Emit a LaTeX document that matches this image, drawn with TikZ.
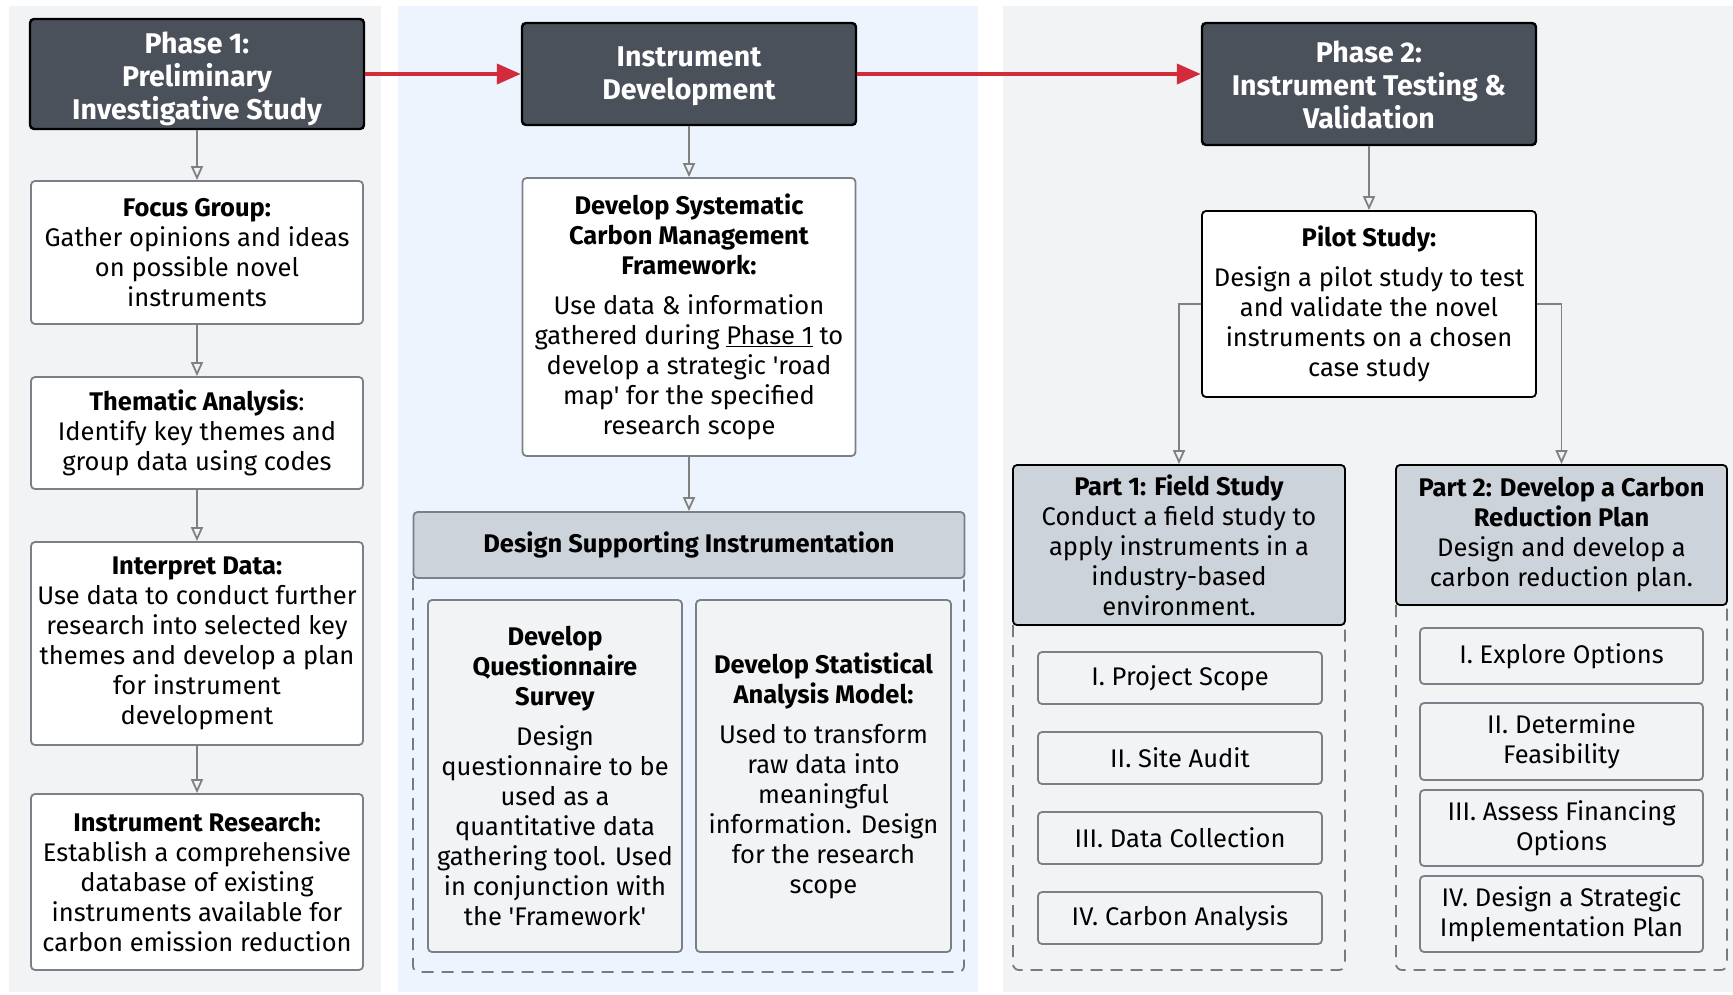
\documentclass[tikz,border=0pt]{standalone}
\usepackage{fontspec}
\setmainfont{Fira Sans}[Ligatures=TeXOff]
\usetikzlibrary{arrows.meta}

\definecolor{darkfill}{HTML}{4B515B}
\definecolor{headfill}{HTML}{CDD3DB}
\definecolor{bggrey}{HTML}{F2F3F5}
\definecolor{bgblue}{HTML}{EDF4FE}
\definecolor{innerfill}{HTML}{F2F3F5}
\definecolor{edgegrey}{HTML}{7B8088}
\definecolor{dashgrey}{HTML}{767B83}
\definecolor{flowred}{HTML}{D12B3C}
\definecolor{arrowgrey}{HTML}{808080}

\newcommand\txtsz{\fontsize{25.5}{30}\selectfont}
\newcommand\headsz{\fontsize{28.5}{33}\selectfont}
% centred block of lines with no size of its own, lowered by a given amount
\newcommand\dropby[2]{\raisebox{-#1}[0pt][0pt]{\begin{tabular}{@{}c@{}}#2\end{tabular}}}

\begin{document}
\begin{tikzpicture}[x=1pt,y=-1pt,
  phasebox/.style={draw=black, line width=2.4pt, rounded corners=4pt, fill=darkfill,
    text=white, align=center, inner sep=0pt, font=\headsz\bfseries},
  whitebox/.style={draw=edgegrey, line width=1.8pt, rounded corners=4pt, fill=white,
    align=center, inner sep=0pt, font=\txtsz},
  pilotbox/.style={whitebox, draw=black},
  headbox/.style={draw=edgegrey, line width=1.8pt, rounded corners=4pt, fill=headfill,
    align=center, inner sep=0pt, font=\txtsz},
  partbox/.style={headbox, draw=black},
  innerbox/.style={draw=edgegrey, line width=1.8pt, rounded corners=4pt, fill=innerfill,
    align=center, inner sep=0pt, font=\txtsz},
  dashframe/.style={draw=dashgrey, line width=1.8pt, dash pattern=on 12pt off 8pt,
    rounded corners=6pt},
  garrow/.style={draw=arrowgrey, line width=1.8pt,
    -{Triangle[open, length=14pt, width=12pt]}},
  rarrow/.style={draw=flowred, line width=4pt,
    -{Triangle[length=24pt, width=20pt]}}
]
\useasboundingbox (0,0) rectangle (1733,994);

% column backgrounds
\fill[bggrey] (9,6) rectangle (381,992);
\fill[bgblue] (398,6) rectangle (978,992);
\fill[bggrey] (1003,6) rectangle (1733,992);

% ---------- Phase 1 column ----------
\node[phasebox, minimum width=334pt, minimum height=110pt] (p1) at (197,74)
  {\dropby{12pt}{Phase 1:\\Preliminary\\Investigative Study}};
\node[whitebox, minimum width=332pt, minimum height=143pt] (focus) at (197,252.5)
  {\textbf{Focus Group:}\\Gather opinions and ideas\\on possible novel\\instruments};
\node[whitebox, minimum width=332pt, minimum height=112pt] (thematic) at (197,433)
  {\textbf{Thematic Analysis}:\\Identify key themes and\\group data using codes};
\node[whitebox, minimum width=332pt, minimum height=203pt] (interpret) at (197,643.5)
  {\textbf{Interpret Data:}\\Use data to conduct further\\research into selected key\\themes and develop a plan\\for instrument\\development};
\node[whitebox, minimum width=332pt, minimum height=176pt] (research) at (197,882)
  {\textbf{Instrument Research:}\\Establish a comprehensive\\database of existing\\instruments available for\\carbon emission reduction};

\draw[garrow] (p1) -- (focus);
\draw[garrow] (focus) -- (thematic);
\draw[garrow] (thematic) -- (interpret);
\draw[garrow] (interpret) -- (research);

% ---------- Instrument development column ----------
\node[phasebox, minimum width=334pt, minimum height=102pt] (dev) at (689,74)
  {\dropby{8.5pt}{Instrument\\Development}};
\node[whitebox, minimum width=333pt, minimum height=278pt] (framework) at (689,317)
  {\textbf{Develop Systematic}\\\textbf{Carbon Management}\\\textbf{Framework:}\\[10pt]
   Use data \& information\\gathered during \underline{Phase 1} to\\develop a strategic 'road\\map' for the specified\\research scope};

\draw[dashframe] (413,578) -- (413,972) -- (964,972) -- (964,578);
\node[headbox, minimum width=551pt, minimum height=66pt] (dsi) at (689,545)
  {\textbf{Design Supporting Instrumentation}};
\node[innerbox, minimum width=254pt, minimum height=352pt] (quest) at (555,776)
  {\textbf{Develop}\\\textbf{Questionnaire}\\\textbf{Survey}\\[10pt]
   Design\\questionnaire to be\\used as a\\quantitative data\\gathering tool. Used\\in conjunction with\\the 'Framework'};
\node[innerbox, minimum width=255pt, minimum height=352pt] (stat) at (823.5,776)
  {\textbf{Develop Statistical}\\\textbf{Analysis Model:}\\[10pt]
   Used to transform\\raw data into\\meaningful\\information. Design\\for the research\\scope};

\draw[garrow] (dev) -- (framework);
\draw[garrow] (framework) -- (dsi);

% ---------- Phase 2 column ----------
\node[phasebox, minimum width=334pt, minimum height=122pt] (p2) at (1369,84)
  {\dropby{10.7pt}{Phase 2:\\Instrument Testing \&\\Validation}};
\node[pilotbox, minimum width=334pt, minimum height=186pt] (pilot) at (1369,304)
  {\textbf{Pilot Study:}\\[10pt]Design a pilot study to test\\and validate the novel\\instruments on a chosen\\case study};

\draw[dashframe] (1013,625) -- (1013,970) -- (1345,970) -- (1345,625);
\draw[dashframe] (1396,605) -- (1396,970) -- (1727,970) -- (1727,605);

\node[partbox, minimum width=332pt, minimum height=160pt] (part1) at (1179,545)
  {\textbf{Part 1: Field Study}\\Conduct a field study to\\apply instruments in a\\industry-based\\environment.};
\node[partbox, minimum width=331pt, minimum height=140pt] (part2) at (1561.5,535)
  {\textbf{Part 2: Develop a Carbon}\\\textbf{Reduction Plan}\\Design and develop a\\carbon reduction plan.};

\node[innerbox, minimum width=284pt, minimum height=52pt] (fs1) at (1180,678) {I. Project Scope};
\node[innerbox, minimum width=284pt, minimum height=52pt] (fs2) at (1180,758) {II. Site Audit};
\node[innerbox, minimum width=284pt, minimum height=52pt] (fs3) at (1180,838) {III. Data Collection};
\node[innerbox, minimum width=284pt, minimum height=52pt] (fs4) at (1180,918) {IV. Carbon Analysis};

\node[innerbox, minimum width=283pt, minimum height=56pt] (cr1) at (1561.5,656) {I. Explore Options};
\node[innerbox, minimum width=283pt, minimum height=77pt] (cr2) at (1561.5,741.5) {II. Determine\\Feasibility};
\node[innerbox, minimum width=283pt, minimum height=76pt] (cr3) at (1561.5,828) {III. Assess Financing\\Options};
\node[innerbox, minimum width=283pt, minimum height=76pt] (cr4) at (1561.5,914) {IV. Design a Strategic\\Implementation Plan};

\draw[garrow] (p2) -- (pilot);
\draw[garrow] (pilot.west) -| (part1.north);
\draw[garrow] (pilot.east) -| (part2.north);

% ---------- phase flow ----------
\draw[rarrow] (p1.east) -- (dev.west);
\draw[rarrow] (dev.east) -- (dev.east -| p2.west);
\end{tikzpicture}
\end{document}
